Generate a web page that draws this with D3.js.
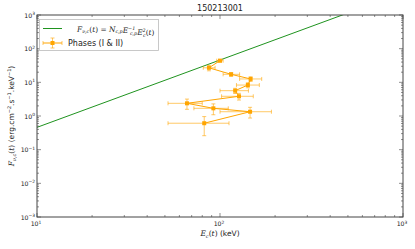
<!DOCTYPE html>
<html>
<head>
<meta charset="utf-8">
<script src="https://cdn.jsdelivr.net/npm/d3@7"></script>
<style>
  body { margin: 0; background: #fff; }
  svg { display: block; }
</style>
</head>
<body>
<div id="chart"></div>
<script>
// Peak energy (keV) and flux per phase point, in time order
const energy   = [100, 87, 115, 147, 142, 121, 127, 66, 92, 146, 82];
const energyLo = [4, 6, 11, 19, 19, 21, 25, 14, 20, 46, 30];
const energyHi = [4, 7, 13, 22, 22, 22, 25, 14, 19, 45, 30];
const flux     = [44, 27, 17.3, 12.6, 8.3, 5.65, 3.85, 2.38, 1.69, 1.34, 0.61];
const fluxErr  = [4, 5, 2.2, 2, 1.4, 1.0, 0.87, 0.8, 0.6, 0.47, 0.35];

// Model line F = N * E^2
const modelNorm = 0.0046;
const modelE = [10, 1000];

const xTicks = [10, 100, 1000];
const yTicks = [1e-3, 1e-2, 1e-1, 1, 10, 100, 1000];

const width = 415, height = 249;
const plot = { left: 37, right: 403, top: 15, bottom: 217 };

const x = d3.scaleLog().domain([10, 1000]).range([plot.left, plot.right]);
const y = d3.scaleLog().domain([1e-3, 1e3]).range([plot.bottom, plot.top]);

const svg = d3.select('#chart').append('svg')
  .attr('width', width)
  .attr('height', height)
  .style('font-family', 'DejaVu Sans');

const spineColor = '#444';
const orange = '#ffa500';
const green = '#1f931f';

// clip region for data
svg.append('clipPath').attr('id', 'clip')
  .append('rect')
  .attr('x', plot.left).attr('y', plot.top)
  .attr('width', plot.right - plot.left).attr('height', plot.bottom - plot.top);

const body = svg.append('g').attr('clip-path', 'url(#clip)');

// model line
body.append('path')
  .datum(modelE)
  .attr('d', d3.line().x(d => x(d)).y(d => y(modelNorm * d * d)))
  .attr('fill', 'none')
  .attr('stroke', green)
  .attr('stroke-width', 1);

// error bars
const pts = energy.map((e, i) => ({
  e, f: flux[i], lo: energyLo[i], hi: energyHi[i], fe: fluxErr[i]
}));

const eb = body.append('g')
  .attr('stroke', orange)
  .attr('stroke-opacity', 0.6)
  .attr('stroke-width', 1);

pts.forEach(p => {
  const cx = x(p.e), cy = y(p.f);
  const x0 = x(p.e - p.lo), x1 = x(p.e + p.hi);
  const y0 = y(p.f + p.fe), y1 = y(Math.max(p.f - p.fe, 1e-3));
  eb.append('line').attr('x1', x0).attr('x2', x1).attr('y1', cy).attr('y2', cy);
  eb.append('line').attr('x1', x0).attr('x2', x0).attr('y1', cy - 2).attr('y2', cy + 2);
  eb.append('line').attr('x1', x1).attr('x2', x1).attr('y1', cy - 2).attr('y2', cy + 2);
  eb.append('line').attr('x1', cx).attr('x2', cx).attr('y1', y0).attr('y2', y1);
  eb.append('line').attr('x1', cx - 2).attr('x2', cx + 2).attr('y1', y0).attr('y2', y0);
  eb.append('line').attr('x1', cx - 2).attr('x2', cx + 2).attr('y1', y1).attr('y2', y1);
});

// connecting line
body.append('path')
  .datum(pts)
  .attr('d', d3.line().x(d => x(d.e)).y(d => y(d.f)))
  .attr('fill', 'none')
  .attr('stroke', orange)
  .attr('stroke-width', 1);

// markers
body.selectAll('rect.pt')
  .data(pts)
  .join('rect')
  .attr('class', 'pt')
  .attr('x', d => x(d.e) - 2)
  .attr('y', d => y(d.f) - 2)
  .attr('width', 4)
  .attr('height', 4)
  .attr('fill', orange);

// ticks, inward on all four sides
const ticks = svg.append('g').attr('stroke', spineColor).attr('stroke-width', 0.6);

function minorOf(domain) {
  const out = [];
  for (let p = Math.log10(domain[0]); p < Math.log10(domain[1]); p++) {
    for (let k = 2; k <= 9; k++) out.push(k * Math.pow(10, p));
  }
  return out;
}

xTicks.forEach(t => {
  ticks.append('line').attr('x1', x(t)).attr('x2', x(t)).attr('y1', plot.bottom).attr('y2', plot.bottom - 4);
  ticks.append('line').attr('x1', x(t)).attr('x2', x(t)).attr('y1', plot.top).attr('y2', plot.top + 4);
});
minorOf(x.domain()).forEach(t => {
  ticks.append('line').attr('x1', x(t)).attr('x2', x(t)).attr('y1', plot.bottom).attr('y2', plot.bottom - 2);
  ticks.append('line').attr('x1', x(t)).attr('x2', x(t)).attr('y1', plot.top).attr('y2', plot.top + 2);
});
yTicks.forEach(t => {
  ticks.append('line').attr('y1', y(t)).attr('y2', y(t)).attr('x1', plot.left).attr('x2', plot.left + 4);
  ticks.append('line').attr('y1', y(t)).attr('y2', y(t)).attr('x1', plot.right).attr('x2', plot.right - 4);
});
minorOf(y.domain()).forEach(t => {
  ticks.append('line').attr('y1', y(t)).attr('y2', y(t)).attr('x1', plot.left).attr('x2', plot.left + 2);
  ticks.append('line').attr('y1', y(t)).attr('y2', y(t)).attr('x1', plot.right).attr('x2', plot.right - 2);
});

// spines
svg.append('rect')
  .attr('x', plot.left).attr('y', plot.top)
  .attr('width', plot.right - plot.left).attr('height', plot.bottom - plot.top)
  .attr('fill', 'none')
  .attr('stroke', spineColor)
  .attr('stroke-width', 1);

// tick labels as 10^n
function powLabel(g, t, px, py, anchor) {
  const n = Math.round(Math.log10(t));
  const txt = g.append('text')
    .attr('x', px).attr('y', py)
    .attr('text-anchor', anchor)
    .attr('font-size', 6.2)
    .attr('fill', '#222');
  txt.append('tspan').text('10');
  txt.append('tspan').attr('dy', -2.5).attr('font-size', 4.4).text(String(n).replace('-', '\u2212'));
}

const labels = svg.append('g');
xTicks.forEach(t => powLabel(labels, t, x(t) - 1, plot.bottom + 9, 'middle'));
yTicks.forEach(t => powLabel(labels, t, plot.left - 2, y(t) + 2.5, 'end'));

// title
svg.append('text')
  .attr('x', (plot.left + plot.right) / 2)
  .attr('y', plot.top - 4)
  .attr('text-anchor', 'middle')
  .attr('font-size', 8)
  .attr('fill', '#222')
  .text('150213001');

const mathFont = 'DejaVu Serif';

// x label
const xl = svg.append('text')
  .attr('x', (plot.left + plot.right) / 2)
  .attr('y', 236)
  .attr('text-anchor', 'middle')
  .attr('font-size', 7.5)
  .attr('fill', '#222');
xl.append('tspan').attr('font-family', mathFont).attr('font-style', 'italic').text('E');
xl.append('tspan').attr('font-family', mathFont).attr('font-style', 'italic').attr('font-size', 5).attr('dy', 1.5).text('c');
xl.append('tspan').attr('font-family', mathFont).attr('dy', -1.5).text('(');
xl.append('tspan').attr('font-family', mathFont).attr('font-style', 'italic').text('t');
xl.append('tspan').attr('font-family', mathFont).text(')');
xl.append('tspan').text(' (keV)');

// y label
const yl = svg.append('text')
  .attr('transform', `translate(14, ${(plot.top + plot.bottom) / 2}) rotate(-90)`)
  .attr('text-anchor', 'middle')
  .attr('font-size', 7.5)
  .attr('fill', '#222');
yl.append('tspan').attr('font-family', mathFont).attr('font-style', 'italic').text('F');
yl.append('tspan').attr('font-family', mathFont).attr('font-style', 'italic').attr('font-size', 5).attr('dy', 1.5).text('\u03bd,c');
yl.append('tspan').attr('font-family', mathFont).attr('dy', -1.5).text('(');
yl.append('tspan').attr('font-family', mathFont).attr('font-style', 'italic').text('t');
yl.append('tspan').attr('font-family', mathFont).text(')');
yl.append('tspan').text(' (erg.cm');
yl.append('tspan').attr('font-size', 5).attr('dy', -3).text('\u22122');
yl.append('tspan').attr('dy', 3).text('.s');
yl.append('tspan').attr('font-size', 5).attr('dy', -3).text('\u22121');
yl.append('tspan').attr('dy', 3).text('.keV');
yl.append('tspan').attr('font-size', 5).attr('dy', -3).text('\u22121');
yl.append('tspan').attr('dy', 3).text(')');

// legend
const lg = svg.append('g');
lg.append('rect')
  .attr('x', 39.5).attr('y', 19.5)
  .attr('width', 119).attr('height', 31)
  .attr('fill', '#fff')
  .attr('stroke', '#bbb')
  .attr('stroke-width', 0.8);

lg.append('line')
  .attr('x1', 43).attr('x2', 62).attr('y1', 28.5).attr('y2', 28.5)
  .attr('stroke', green).attr('stroke-width', 1);

const l1 = lg.append('text')
  .attr('x', 77).attr('y', 31.5)
  .attr('font-size', 7.4)
  .attr('font-family', mathFont)
  .attr('fill', '#222');
const it = s => l1.append('tspan').attr('font-style', 'italic').text(s);
const sub = (s, dy) => l1.append('tspan').attr('font-style', 'italic').attr('font-size', 4.8).attr('dy', dy).text(s);
it('F'); sub('\u03bd,c', 1.5);
l1.append('tspan').attr('dy', -1.5).text('(');
it('t'); l1.append('tspan').text(') = ');
it('N'); sub('c,p', 1.5);
l1.append('tspan').attr('dy', -1.5).text('');
it('E'); sub('\u22121', -3); l1.append('tspan').attr('font-size', 4.8).attr('font-style', 'italic').attr('dx', -5.3).attr('dy', 5).text('c,p');
l1.append('tspan').attr('dy', -2).text('');
it('E'); sub('2', -3); l1.append('tspan').attr('font-size', 4.8).attr('font-style', 'italic').attr('dx', -2.7).attr('dy', 5).text('c');
l1.append('tspan').attr('dy', -2).text('(');
it('t'); l1.append('tspan').text(')');

// errorbar legend handle
const h = lg.append('g').attr('stroke', orange);
h.append('line').attr('x1', 43).attr('x2', 62).attr('y1', 43).attr('y2', 43).attr('stroke-width', 1);
h.append('line').attr('x1', 43).attr('x2', 43).attr('y1', 41).attr('y2', 45).attr('stroke-opacity', 0.6);
h.append('line').attr('x1', 62).attr('x2', 62).attr('y1', 41).attr('y2', 45).attr('stroke-opacity', 0.6);
h.append('line').attr('x1', 52.5).attr('x2', 52.5).attr('y1', 38).attr('y2', 48).attr('stroke-opacity', 0.6);
h.append('line').attr('x1', 50.5).attr('x2', 54.5).attr('y1', 38).attr('y2', 38).attr('stroke-opacity', 0.6);
h.append('line').attr('x1', 50.5).attr('x2', 54.5).attr('y1', 48).attr('y2', 48).attr('stroke-opacity', 0.6);
lg.append('rect').attr('x', 50.5).attr('y', 41).attr('width', 4).attr('height', 4).attr('fill', orange);

lg.append('text')
  .attr('x', 68).attr('y', 46)
  .attr('font-size', 8)
  .attr('fill', '#222')
  .text('Phases (I & II)');
</script>
</body>
</html>
